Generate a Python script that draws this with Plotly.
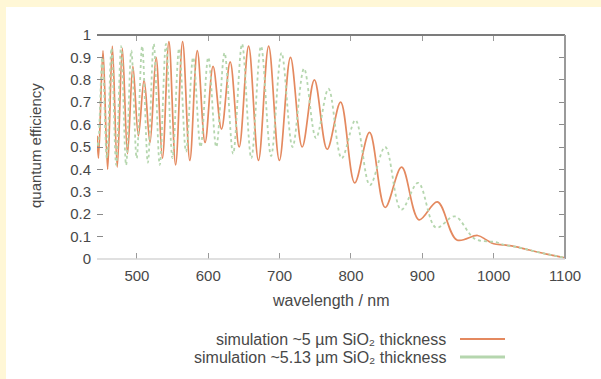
import plotly.graph_objects as go

# ---- data (extrema of the interference fringes) ----
wl_5um = [444.0, 446.1, 452.4, 458.9, 465.5, 472.4, 479.5, 486.8, 494.3, 502.0, 510.0,
          518.3, 526.8, 535.7, 544.8, 554.2, 564.0, 574.1, 584.6, 595.5, 606.7,
          618.5, 630.7, 643.3, 656.5, 670.3, 684.6, 699.6, 715.2, 731.6, 748.7,
          766.6, 785.5, 805.2, 826.0, 847.9, 871.0, 895.4, 921.1, 948.4, 977.4,
          990.0, 1000.0, 1015.0, 1030.0, 1050.0, 1070.0, 1085.0, 1100.0]
qe_5um = [0.55, 0.45, 0.93, 0.40, 0.95, 0.41, 0.94, 0.47, 0.86, 0.55, 0.80,
          0.52, 0.90, 0.45, 0.97, 0.42, 0.97, 0.44, 0.93, 0.52, 0.86,
          0.58, 0.88, 0.50, 0.95, 0.44, 0.95, 0.44, 0.90, 0.50, 0.80,
          0.49, 0.70, 0.34, 0.565, 0.23, 0.41, 0.175, 0.255, 0.085, 0.105,
          0.085, 0.068, 0.063, 0.055, 0.040, 0.025, 0.015, 0.005]

wl_513um = [444.0, 445.4, 451.5, 457.8, 464.3, 470.9, 477.8, 484.8, 492.1, 499.6, 507.3,
            515.3, 523.5, 532.0, 540.7, 549.8, 559.1, 568.8, 578.8, 589.2, 600.0,
            611.2, 622.8, 634.8, 647.3, 660.3, 673.9, 688.0, 702.7, 718.1, 734.2,
            751.0, 768.5, 787.0, 806.3, 826.6, 847.9, 870.4, 894.1, 919.2, 945.6,
            973.6, 1003.4, 1015.0, 1030.0, 1050.0, 1070.0, 1085.0, 1100.0]
qe_513um = [0.52, 0.50, 0.90, 0.45, 0.94, 0.42, 0.95, 0.42, 0.93, 0.45, 0.95,
            0.43, 0.96, 0.42, 0.96, 0.45, 0.94, 0.48, 0.90, 0.50, 0.90,
            0.50, 0.92, 0.47, 0.96, 0.45, 0.95, 0.46, 0.92, 0.50, 0.85,
            0.54, 0.76, 0.45, 0.62, 0.33, 0.50, 0.22, 0.34, 0.14, 0.19,
            0.09, 0.075, 0.063, 0.055, 0.040, 0.025, 0.015, 0.005]

x_ticks = [500, 600, 700, 800, 900, 1000, 1100]
y_ticks = [0, 0.1, 0.2, 0.3, 0.4, 0.5, 0.6, 0.7, 0.8, 0.9, 1]
y_tick_labels = ["0", "0.1", "0.2", "0.3", "0.4", "0.5", "0.6", "0.7", "0.8", "0.9", "1"]
series_names = ["simulation ~5 µm SiO₂ thickness",
                "simulation ~5.13 µm SiO₂ thickness"]

ORANGE = "#e4895f"
GREEN = "#b5d6ae"
FONT = "Liberation Sans, Arial, sans-serif"
TXT = "#484848"

fig = go.Figure()
fig.add_trace(go.Scatter(x=wl_5um, y=qe_5um, mode="lines", name=series_names[0],
                         line=dict(color=ORANGE, width=1.7, shape="spline", smoothing=1.0)))
fig.add_trace(go.Scatter(x=wl_513um, y=qe_513um, mode="lines", name=series_names[1],
                         line=dict(color=GREEN, width=1.8, dash="dot", shape="spline", smoothing=1.0)))

W, H = 601, 379
L, R, T, B = 97, 36, 35, 120
pw, ph = W - L - R, H - T - B

def px(x):
    return (x - L) / pw

def py(y):
    return (H - B - y) / ph

shapes = [
    # white card on pale yellow page
    dict(type="rect", xref="paper", yref="paper", x0=px(6), x1=px(640), y0=py(420), y1=py(7),
         fillcolor="white", line=dict(width=0), layer="below"),
    # frame
    dict(type="line", xref="paper", yref="paper", x0=0, x1=1, y0=1, y1=1,
         line=dict(color="#7c7c7c", width=2)),
    dict(type="line", xref="paper", yref="paper", x0=1, x1=1, y0=0, y1=1,
         line=dict(color="#9a9a9a", width=2)),
    dict(type="line", xref="paper", yref="paper", x0=0, x1=1, y0=0, y1=0,
         line=dict(color="#d6d6d6", width=1.5)),
    # legend samples
    dict(type="line", xref="paper", yref="paper", x0=px(460), x1=px(505), y0=py(339), y1=py(339),
         line=dict(color=ORANGE, width=2)),
    dict(type="line", xref="paper", yref="paper", x0=px(460), x1=px(505), y0=py(357), y1=py(357),
         line=dict(color=GREEN, width=3)),
]

annotations = [
    dict(text="wavelength / nm", xref="paper", yref="paper", x=0.5, y=py(300),
         xanchor="center", yanchor="middle", showarrow=False, font=dict(size=16, color=TXT, family=FONT)),
    dict(text="quantum efficiency", xref="paper", yref="paper", x=px(35), y=py(146),
         xanchor="center", yanchor="middle", textangle=-90, showarrow=False,
         font=dict(size=15, color=TXT, family=FONT)),
    dict(text=series_names[0], xref="paper", yref="paper", x=px(448), y=py(339),
         xanchor="right", yanchor="middle", showarrow=False, font=dict(size=16, color=TXT, family=FONT)),
    dict(text=series_names[1], xref="paper", yref="paper", x=px(448), y=py(357),
         xanchor="right", yanchor="middle", showarrow=False, font=dict(size=16, color=TXT, family=FONT)),
]

fig.update_layout(
    width=W, height=H,
    margin=dict(l=L, r=R, t=T, b=B, pad=0),
    paper_bgcolor="#fff7d6",
    plot_bgcolor="white",
    showlegend=False,
    shapes=shapes,
    annotations=annotations,
    font=dict(family=FONT, color=TXT, size=15),
)
fig.update_xaxes(range=[444, 1100], tickvals=x_ticks, ticks="inside", ticklen=6, tickcolor="#9a9a9a",
                 tickwidth=1, mirror="ticks", showline=False, showgrid=False, zeroline=False,
                 ticklabelstandoff=6, tickfont=dict(size=15, color=TXT, family=FONT))
fig.update_yaxes(range=[0, 1], tickvals=y_ticks, ticktext=y_tick_labels, ticks="inside", ticklen=6,
                 tickcolor="#8a8a8a", tickwidth=1, mirror="ticks", showline=False, showgrid=False,
                 zeroline=False, ticklabelstandoff=5, tickfont=dict(size=15, color=TXT, family=FONT))

fig.write_html("out.html")
